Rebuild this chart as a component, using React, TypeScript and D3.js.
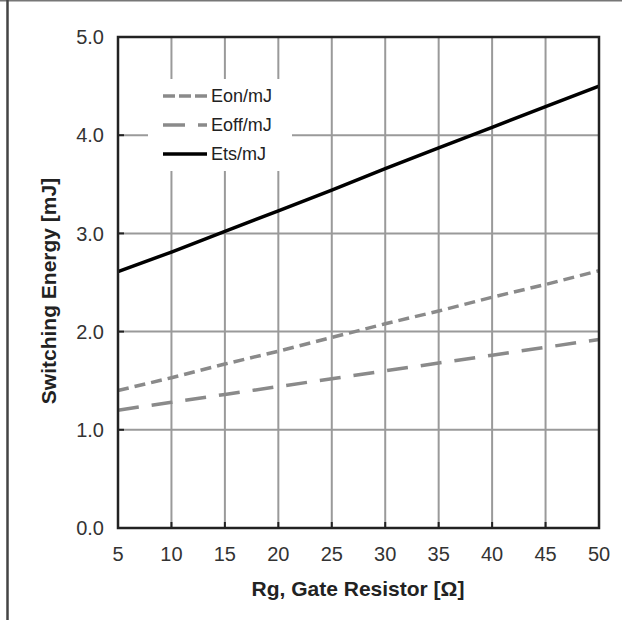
import React from "react";
import * as d3 from "d3";

// Gate resistance (Ω) and switching energies (mJ)
const rg = [5, 10, 15, 20, 25, 30, 35, 40, 45, 50];
const eon = [1.4, 1.53, 1.67, 1.8, 1.94, 2.08, 2.21, 2.35, 2.48, 2.62];
const eoff = [1.2, 1.28, 1.36, 1.44, 1.52, 1.6, 1.68, 1.76, 1.84, 1.92];
const ets = [2.61, 2.81, 3.02, 3.23, 3.44, 3.66, 3.87, 4.08, 4.29, 4.5];

const xTicks = [5, 10, 15, 20, 25, 30, 35, 40, 45, 50];
const yTicks = [0, 1, 2, 3, 4, 5];

const seriesNames = ["Eon/mJ", "Eoff/mJ", "Ets/mJ"];

const W = 622;
const H = 620;
const plot = { left: 118, right: 599, top: 37, bottom: 528 };

const font = "'Liberation Sans', Arial, sans-serif";

export default function App() {
  const x = d3.scaleLinear().domain([5, 50]).range([plot.left, plot.right]);
  const y = d3.scaleLinear().domain([0, 5]).range([plot.bottom, plot.top]);

  const line = (vals: number[]) =>
    d3
      .line<number>()
      .x((_, i) => x(rg[i]))
      .y((v) => y(v))(vals) as string;

  const styles = [
    { data: eon, stroke: "#8a8a8a", width: 3.5, dash: "11,6" },
    { data: eoff, stroke: "#8a8a8a", width: 3.5, dash: "21,13" },
    { data: ets, stroke: "#000", width: 3.5, dash: undefined as string | undefined },
  ];

  const legendX = 163;
  const legendY = [96, 125, 154];

  return (
    <svg
      width={W}
      height={H}
      style={{ position: "absolute", left: 0, top: 0, background: "#fff" }}
      fontFamily={font}
    >
      {/* page frame edges */}
      <line x1={0} x2={W} y1={0.75} y2={0.75} stroke="#777" strokeWidth={1.5} />
      <line x1={7.5} x2={7.5} y1={0} y2={H} stroke="#444" strokeWidth={2.5} />

      {/* grid */}
      {yTicks.slice(1, -1).map((t) => (
        <line
          key={"gy" + t}
          x1={plot.left}
          x2={plot.right}
          y1={y(t)}
          y2={y(t)}
          stroke="#9a9a9a"
          strokeWidth={2}
        />
      ))}
      {xTicks.slice(1, -1).map((t) => (
        <line
          key={"gx" + t}
          x1={x(t)}
          x2={x(t)}
          y1={plot.top}
          y2={plot.bottom}
          stroke="#9a9a9a"
          strokeWidth={2}
        />
      ))}
      {/* inward tick marks */}
      {yTicks.slice(1, -1).map((t) => (
        <line key={"ty" + t} x1={plot.left} x2={plot.left + 6} y1={y(t)} y2={y(t)} stroke="#222" strokeWidth={2} />
      ))}
      {xTicks.slice(1, -1).map((t) => (
        <line key={"tx" + t} x1={x(t)} x2={x(t)} y1={plot.bottom} y2={plot.bottom - 6} stroke="#222" strokeWidth={2} />
      ))}

      {/* legend background */}
      <rect x={148} y={79} width={144} height={92} fill="#fff" />

      {/* series */}
      {styles.map((s, i) => (
        <path
          key={i}
          d={line(s.data)}
          fill="none"
          stroke={s.stroke}
          strokeWidth={s.width}
          strokeDasharray={s.dash}
        />
      ))}

      {/* plot frame */}
      <rect
        x={plot.left}
        y={plot.top}
        width={plot.right - plot.left}
        height={plot.bottom - plot.top}
        fill="none"
        stroke="#222"
        strokeWidth={2.5}
      />

      {/* legend */}
      {seriesNames.map((n, i) => (
        <g key={n}>
          <line
            x1={legendX}
            x2={legendX + 44}
            y1={legendY[i]}
            y2={legendY[i]}
            stroke={styles[i].stroke}
            strokeWidth={styles[i].width}
            strokeDasharray={i === 0 ? "12,4" : i === 1 ? "22,13" : undefined}
          />
          <text x={legendX + 48} y={legendY[i]} dy="0.36em" fontSize={18} fill="#222">
            {n}
          </text>
        </g>
      ))}

      {/* y tick labels */}
      {yTicks.map((t) => (
        <text
          key={"ly" + t}
          x={104}
          y={y(t)}
          dy="0.36em"
          textAnchor="end"
          fontSize={20}
          fill="#333"
        >
          {t.toFixed(1)}
        </text>
      ))}
      {/* x tick labels */}
      {xTicks.map((t) => (
        <text
          key={"lx" + t}
          x={x(t)}
          y={554}
          dy="0.36em"
          textAnchor="middle"
          fontSize={20}
          fill="#333"
        >
          {t}
        </text>
      ))}

      {/* axis titles */}
      <text x={358} y={588} dy="0.36em" textAnchor="middle" fontSize={21} fontWeight="bold" fill="#222">
        Rg, Gate Resistor [Ω]
      </text>
      <text
        transform="translate(48,291) rotate(-90)"
        dy="0.36em"
        textAnchor="middle"
        fontSize={21}
        fontWeight="bold"
        fill="#222"
      >
        Switching Energy [mJ]
      </text>
    </svg>
  );
}
